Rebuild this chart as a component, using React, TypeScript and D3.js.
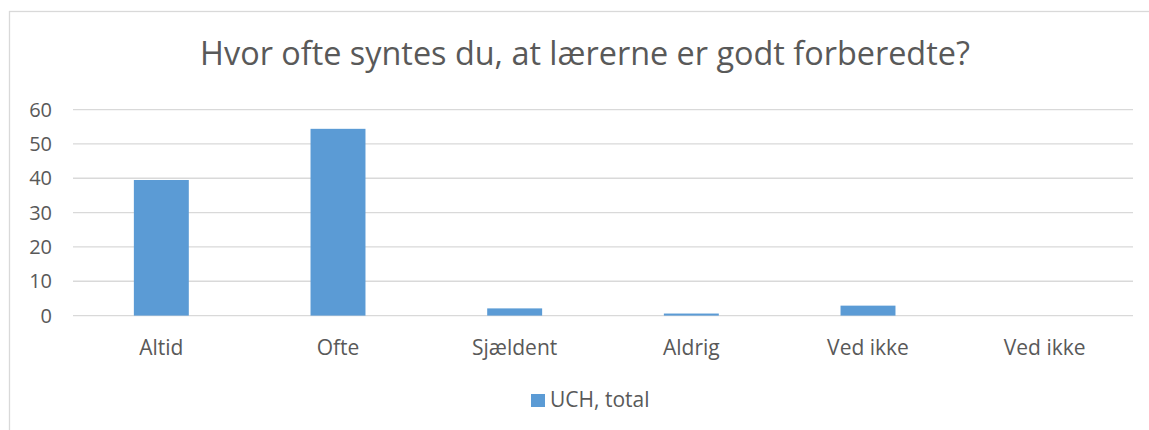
import React, { useEffect, useRef } from 'react'
import * as d3 from 'd3'

const categories = ['Altid', 'Ofte', 'Sjældent', 'Aldrig', 'Ved ikke', 'Ved ikke ']
const values = [39.5, 54.4, 2.1, 0.6, 2.9, 0]
const yTicks = [0, 10, 20, 30, 40, 50, 60]
const seriesName = 'UCH, total'
const title = 'Hvor ofte syntes du, at lærerne er godt forberedte?'

const W = 1149
const H = 430
const font = '"Open Sans", sans-serif'
const textColor = '#595959'
const barColor = '#5b9bd5'

export default function App() {
  const ref = useRef<SVGSVGElement>(null)

  useEffect(() => {
    const svg = d3.select(ref.current)
    svg.selectAll('*').remove()

    // chart frame
    svg.append('rect')
      .attr('x', 9.5).attr('y', 11.5)
      .attr('width', W + 10).attr('height', H + 10)
      .attr('fill', 'white').attr('stroke', '#d9d9d9').attr('stroke-width', 1.3)

    svg.append('text')
      .attr('x', 585).attr('y', 65)
      .attr('text-anchor', 'middle')
      .attr('font-family', font).attr('font-size', 32.4)
      .attr('fill', textColor)
      .text(title)

    const left = 73
    const right = 1133
    const x = d3.scaleBand<string>().domain(categories).range([left, right])
    const y = d3.scaleLinear().domain([0, 60]).range([315.6, 109.6])

    const grid = svg.append('g')
    grid.selectAll('line')
      .data(yTicks)
      .enter()
      .append('line')
      .attr('x1', left).attr('x2', right)
      .attr('y1', d => y(d)).attr('y2', d => y(d))
      .attr('stroke', '#d9d9d9').attr('stroke-width', 1.3)

    svg.append('g').selectAll('text')
      .data(yTicks)
      .enter()
      .append('text')
      .attr('x', 52).attr('y', d => y(d))
      .attr('dy', '0.36em')
      .attr('text-anchor', 'end')
      .attr('font-family', font).attr('font-size', 20)
      .attr('fill', textColor)
      .text(d => d)

    const barW = x.bandwidth() * 0.311
    svg.append('g').selectAll('rect')
      .data(values)
      .enter()
      .append('rect')
      .attr('x', (d, i) => (x(categories[i]) as number) + x.bandwidth() / 2 - barW / 2)
      .attr('width', barW)
      .attr('y', d => y(d))
      .attr('height', d => y(0) - y(d))
      .attr('fill', barColor)

    svg.append('g').selectAll('text')
      .data(categories)
      .enter()
      .append('text')
      .attr('x', d => (x(d) as number) + x.bandwidth() / 2)
      .attr('y', 355)
      .attr('text-anchor', 'middle')
      .attr('font-family', font).attr('font-size', 21)
      .attr('fill', textColor)
      .text(d => d.trim())

    // legend
    svg.append('rect')
      .attr('x', 531).attr('y', 394)
      .attr('width', 14).attr('height', 13)
      .attr('fill', barColor)
    svg.append('text')
      .attr('x', 550).attr('y', 407)
      .attr('font-family', font).attr('font-size', 21)
      .attr('fill', textColor)
      .text(seriesName)
  }, [])

  return (
    <svg ref={ref} width={W} height={H}
      style={{ position: 'absolute', left: 0, top: 0, background: 'white' }} />
  )
}
